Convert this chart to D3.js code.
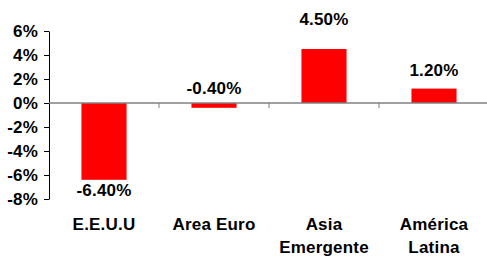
<!DOCTYPE html>
<html>
<head>
<meta charset="utf-8">
<script src="https://cdn.jsdelivr.net/npm/d3@7"></script>
<style>
    body { margin: 0; background: #fff; }
    text { font-family: "Liberation Sans", Arial, sans-serif; font-weight: bold; fill: #000; }
</style>
</head>
<body>
<div id="chart"></div>
<script>
const categories = ["E.E.U.U", "Area Euro", "Asia\nEmergente", "América\nLatina"];
const values = [-6.4, -0.4, 4.5, 1.2];
const yTicks = [6, 4, 2, 0, -2, -4, -6, -8];

// where each value label sits relative to its bar (px, + = down)
const labelDy = [16, -9, -24, -13];

const BAR_COLOR = "#FF0000";
const width = 487;
const height = 256;
const margin = { top: 31, left: 49, right: -2, bottom: 57 };
const fontSize = 17;
const spacing = "0.2px";

const svg = d3.select("#chart")
    .append("svg")
    .attr("width", width)
    .attr("height", height);

const x = d3.scaleBand()
    .domain(categories)
    .range([margin.left, width - margin.right])
    .padding(0);

const y = d3.scaleLinear()
    .domain([-8, 6])
    .range([height - margin.bottom, margin.top]);

const barWidth = x.bandwidth() * 0.41;

// bars
svg.append("g")
    .selectAll("rect")
    .data(values)
    .join("rect")
    .attr("x", (d, i) => x(categories[i]) + (x.bandwidth() - barWidth) / 2)
    .attr("y", d => y(Math.max(d, 0)))
    .attr("width", barWidth)
    .attr("height", d => Math.abs(y(d) - y(0)))
    .attr("fill", BAR_COLOR);

// y axis
const yAxis = d3.axisLeft(y)
    .tickValues(yTicks)
    .tickFormat(d => d + "%")
    .tickSize(5)
    .tickPadding(6)
    .tickSizeOuter(0);

const gy = svg.append("g")
    .attr("transform", "translate(" + margin.left + ",0)")
    .call(yAxis);
gy.select(".domain").attr("stroke", "#000");
gy.selectAll(".tick line").attr("stroke", "#000");
gy.selectAll("text")
    .attr("font-size", fontSize)
    .attr("letter-spacing", spacing)
    .attr("font-family", null);

// category axis along zero
const gx = svg.append("g");
gx.append("line")
    .attr("x1", margin.left)
    .attr("x2", width - margin.right)
    .attr("y1", y(0))
    .attr("y2", y(0))
    .attr("stroke", "#808080")
    .attr("stroke-width", 1.5);
gx.selectAll("line.tick")
    .data(categories)
    .join("line")
    .attr("class", "tick")
    .attr("x1", d => x(d) + x.step())
    .attr("x2", d => x(d) + x.step())
    .attr("y1", y(0))
    .attr("y2", y(0) + 5)
    .attr("stroke", "#808080")
    .attr("stroke-width", 1);

// category labels under plot
const catLabels = svg.append("g")
    .selectAll("text")
    .data(categories)
    .join("text")
    .attr("x", d => x(d) + x.bandwidth() / 2)
    .attr("y", y(-8) + 31)
    .attr("text-anchor", "middle")
    .attr("font-size", fontSize)
    .attr("letter-spacing", spacing);
catLabels.each(function(d) {
    const t = d3.select(this);
    d.split("\n").forEach((line, i) => {
        t.append("tspan")
            .attr("x", x(d) + x.bandwidth() / 2)
            .attr("dy", i == 0 ? 0 : 23)
            .text(line);
    });
});

// value labels
svg.append("g")
    .selectAll("text")
    .data(values)
    .join("text")
    .attr("x", (d, i) => x(categories[i]) + x.bandwidth() / 2)
    .attr("y", (d, i) => (i == 1 ? y(0) : y(d)) + labelDy[i])
    .attr("text-anchor", "middle")
    .attr("font-size", fontSize)
    .attr("letter-spacing", spacing)
    .text(d => d.toFixed(2) + "%");
</script>
</body>
</html>
